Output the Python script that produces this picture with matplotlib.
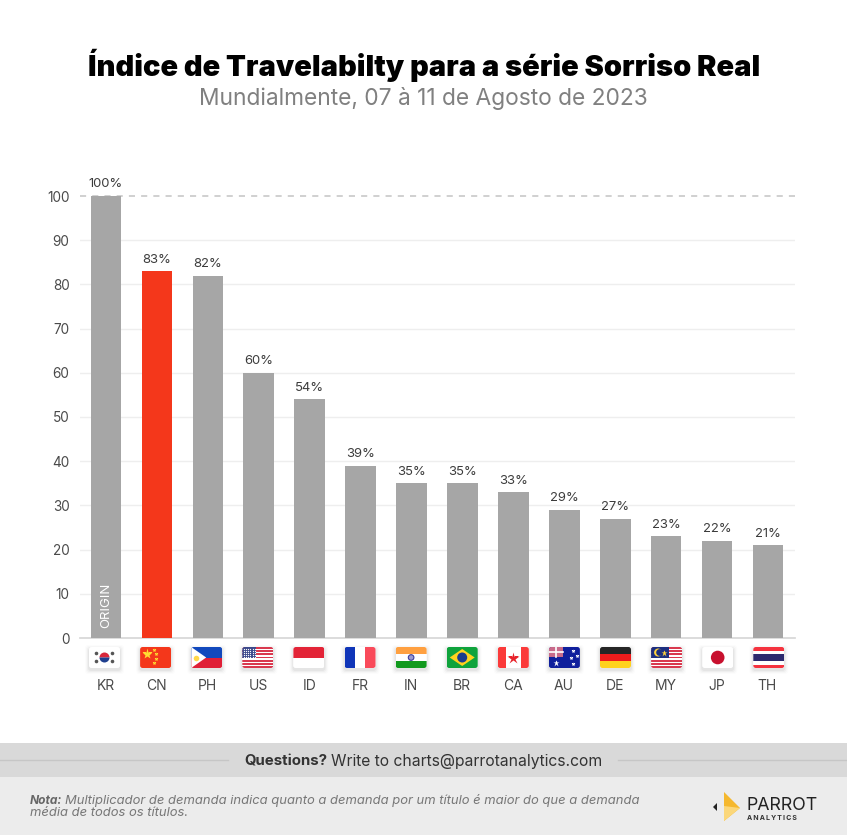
import numpy as np
import matplotlib.pyplot as plt
from matplotlib.patches import Rectangle, Polygon, Circle, FancyBboxPatch, Wedge

W, H = 847, 835

countries = ["KR", "CN", "PH", "US", "ID", "FR", "IN", "BR", "CA", "AU", "DE", "MY", "JP", "TH"]
values = [100, 83, 82, 60, 54, 39, 35, 35, 33, 29, 27, 23, 22, 21]
y_ticks = [0, 10, 20, 30, 40, 50, 60, 70, 80, 90, 100]
highlight = "CN"

TITLE = "Índice de Travelabilty para a série Sorriso Real"
SUBTITLE = "Mundialmente, 07 à 11 de Agosto de 2023"
NOTE_1 = "Multiplicador de demanda indica quanto a demanda por um título é maior do que a demanda"
NOTE_2 = "média de todos os títulos."

plt.rcParams["font.family"] = ["Inter", "DejaVu Sans"]

fig = plt.figure(figsize=(W / 100, H / 100), dpi=100)

# overlay in pixels, y going down
bg = fig.add_axes([0, 0, 1, 1])
bg.set_xlim(0, W)
bg.set_ylim(H, 0)
bg.axis("off")

# ========= chart =========
ax_left, ax_right, ax_top, ax_bottom = 80, 795, 196, 638
ax = fig.add_axes([ax_left / W, 1 - ax_bottom / H, (ax_right - ax_left) / W, (ax_bottom - ax_top) / H])
ax.patch.set_alpha(0)
x = np.arange(len(countries))
colors = ["#f4371b" if c == highlight else "#a6a6a6" for c in countries]
ax.bar(x, values, width=0.6, color=colors, zorder=3)
ax.set_xlim(-0.51, 13.53)
ax.set_ylim(0, 100)
ax.set_yticks(y_ticks)
ax.set_xticks([])
ax.tick_params(axis="y", length=0, labelsize=9.8, labelcolor="#4a4a4a", pad=7.5)
for s in ["top", "right", "left"]:
    ax.spines[s].set_visible(False)
ax.spines["bottom"].set_color("#d5d5d5")
ax.spines["bottom"].set_linewidth(1.2)
for t in y_ticks[1:-1]:
    ax.axhline(t, color="#eeeeee", lw=1, zorder=1)
ax.axhline(100, color="#c4c4c4", lw=1.1, ls=(0, (4, 4)), zorder=2, clip_on=False)

for i, v in enumerate(values):
    ax.annotate(f"{v}%", (i, v), xytext=(0, 4), textcoords="offset points", ha="center", va="bottom",
                fontsize=9.4, color="#3c3c3c", zorder=5, annotation_clip=False)
ax.text(0, 2.2, "ORIGIN", rotation=90, ha="center", va="bottom", color="white", fontsize=9.5, zorder=5)


# ========= flags =========
def stripes(x0, y0, w, h, cols):
    n = len(cols)
    for k, c in enumerate(cols):
        bg.add_patch(Rectangle((x0, y0 + k * h / n), w, h / n, color=c, lw=0, zorder=3))


def vstripes(x0, y0, w, h, cols):
    n = len(cols)
    for k, c in enumerate(cols):
        bg.add_patch(Rectangle((x0 + k * w / n, y0), w / n, h, color=c, lw=0, zorder=3))


def flag(code, cx):
    w, h = 31, 21
    x0, y0 = cx - w / 2, 647
    # soft shadow
    for g, a in [(4, 0.012), (3, 0.02), (2, 0.03), (1, 0.04)]:
        bg.add_patch(FancyBboxPatch((x0 - g, y0 - g + 2), w + 2 * g, h + 2 * g,
                                    boxstyle="round,pad=0,rounding_size=3", fc="black", ec="none", alpha=a, zorder=2))
    n_patches, n_lines = len(bg.patches), len(bg.lines)
    bg.add_patch(Rectangle((x0, y0), w, h, color="white", lw=0, zorder=3))
    mx, my = cx, y0 + h / 2
    if code == "KR":
        bg.add_patch(Wedge((mx, my), 5, 180, 360, color="#d8283c", lw=0, zorder=4))
        bg.add_patch(Wedge((mx, my), 5, 0, 180, color="#1f3f8f", lw=0, zorder=4))
        for dx, dy in [(-8, -4), (8, -4), (-8, 4), (8, 4)]:
            bg.add_patch(Circle((mx + dx, my + dy), 1.8, color="#555555", lw=0, zorder=4))
    elif code == "CN":
        stripes(x0, y0, w, h, ["#f4371b"])
        bg.plot(x0 + 7, y0 + 7, marker="*", ms=8, color="#ffdc32", mec="none", zorder=4)
        for dx, dy in [(14, 3), (16, 7), (16, 12), (14, 16)]:
            bg.plot(x0 + dx, y0 + dy, marker="*", ms=3, color="#ffdc32", mec="none", zorder=4)
    elif code == "PH":
        stripes(x0, y0, w, h, ["#1249bd", "#e01f37"])
        bg.add_patch(Polygon([(x0, y0), (x0 + 15, my), (x0, y0 + h)], color="white", lw=0, zorder=4))
        bg.plot(x0 + 5, my, marker="o", ms=4, color="#ffd84a", mec="none", zorder=5)
    elif code in ("US", "MY"):
        stripes(x0, y0, w, h, ["#d9394f", "white"] * 6 + ["#d9394f"])
        if code == "US":
            bg.add_patch(Rectangle((x0, y0), 14, 11, color="#3c4a8c", lw=0, zorder=4))
            for px in np.arange(x0 + 1.5, x0 + 14, 2.2):
                for py in np.arange(y0 + 1.5, y0 + 11, 2):
                    bg.plot(px, py, marker="o", ms=0.9, color="white", mec="none", zorder=5)
        else:
            bg.add_patch(Rectangle((x0, y0), 18, 11, color="#1c2f80", lw=0, zorder=4))
            bg.add_patch(Circle((x0 + 7, y0 + 5.5), 4, color="#ffd23c", lw=0, zorder=5))
            bg.add_patch(Circle((x0 + 8.5, y0 + 5.5), 3.4, color="#1c2f80", lw=0, zorder=5))
            bg.plot(x0 + 13, y0 + 5.5, marker="*", ms=5, color="#ffd23c", mec="none", zorder=5)
    elif code == "ID":
        stripes(x0, y0, w, h, ["#e32437", "white"])
    elif code == "FR":
        vstripes(x0, y0, w, h, ["#0f35b8", "white", "#f94a5a"])
    elif code == "IN":
        stripes(x0, y0, w, h, ["#ffa040", "white", "#129a1e"])
        bg.add_patch(Circle((mx, my), 2.8, fc="#9a9ad0", ec="#3c3c9c", lw=0.8, zorder=4))
    elif code == "BR":
        stripes(x0, y0, w, h, ["#0fa33c"])
        bg.add_patch(Polygon([(x0 + 3, my), (mx, y0 + 2), (x0 + w - 3, my), (mx, y0 + h - 2)],
                             color="#ffd21e", lw=0, zorder=4))
        bg.add_patch(Circle((mx, my), 5, color="#1b3c8c", lw=0, zorder=5))
    elif code == "CA":
        vstripes(x0, y0, w, h, ["#fb3a3a", "white", "white", "#fb3a3a"])
        bg.plot(mx, my, marker="*", ms=9, color="#e8242c", mec="none", zorder=4)
    elif code == "AU":
        stripes(x0, y0, w, h, ["#0f1f9c"])
        bg.add_patch(Rectangle((x0, y0), 14, 10, color="#c96a8a", lw=0, zorder=4))
        bg.plot([x0, x0 + 14], [y0 + 5, y0 + 5], color="white", lw=1.2, zorder=5)
        bg.plot([x0 + 7, x0 + 7], [y0, y0 + 10], color="white", lw=1.2, zorder=5)
        for dx, dy, s in [(7, 16, 5), (24, 4, 3), (28, 9, 3), (22, 11, 3), (24, 17, 3)]:
            bg.plot(x0 + dx, y0 + dy, marker="*", ms=s, color="white", mec="none", zorder=5)
    elif code == "DE":
        stripes(x0, y0, w, h, ["#262626", "#ee1c1c", "#ffd21e"])
    elif code == "JP":
        bg.add_patch(Circle((mx, my), 6.8, color="#c8102e", lw=0, zorder=4))
    elif code == "TH":
        stripes(x0, y0, w, h, ["#f5333f", "white", "#2d2a6e", "#2d2a6e", "white", "#f5333f"])
    # rounded corners
    clip = FancyBboxPatch((x0, y0), w, h, boxstyle="round,pad=0,rounding_size=2.5",
                          transform=bg.transData, fc="none", ec="none")
    for art in bg.patches[n_patches:] + bg.lines[n_lines:]:
        art.set_clip_path(clip)


for i, c in enumerate(countries):
    flag(c, 104.5 + i * 51.1)
    bg.text(106 + i * 50.88, 685.5, c, ha="center", va="center", fontsize=10, color="#4a4a4a")

# ========= titles =========
bg.text(W / 2 + 1, 65, TITLE, ha="center", va="center", fontsize=20.9, fontweight="black", color="black")
bg.text(W / 2 - 0.5, 99, SUBTITLE, ha="center", va="center", fontsize=16.4, color="#808080")

# ========= footer =========
bg.add_patch(Rectangle((0, 743), W, 34, color="#d9d9d9", lw=0, zorder=1))
bg.add_patch(Rectangle((0, 777), W, 58, color="#ececec", lw=0, zorder=1))
bg.plot([0, 228], [760, 760], color="#c6c6c6", lw=1, zorder=2)
bg.plot([618, W], [760, 760], color="#c6c6c6", lw=1, zorder=2)
bg.text(244, 761, "Questions?", ha="left", va="center", fontsize=10.8, fontweight="bold", color="#333333")
bg.text(331, 761, "Write to charts@parrotanalytics.com", ha="left", va="center", fontsize=11.3, color="#333333")
bg.text(30, 800.5, "Nota:", ha="left", va="center", fontsize=8.6, style="italic", fontweight="bold", color="#666666")
bg.text(65, 800.5, NOTE_1, ha="left", va="center", fontsize=9.36, style="italic", color="#777777")
bg.text(30, 813, NOTE_2, ha="left", va="center", fontsize=9.36, style="italic", color="#777777")

# logo
bg.add_patch(Polygon([(724, 792), (740, 808), (724, 821)], color="#f5b82e", lw=0, zorder=3))
bg.add_patch(Polygon([(724, 806), (740, 808), (724, 821)], color="#fbd77a", lw=0, zorder=4))
bg.add_patch(Polygon([(717, 803), (713, 807), (717, 811)], color="#222222", lw=0, zorder=3))
bg.text(747, 806, "PARROT", ha="left", va="center", fontsize=12.8, color="#222222")
bg.text(747, 818, "\u2009".join("ANALYTICS"), ha="left", va="center", fontsize=5, fontweight="bold", color="#333333")

fig.savefig("out.png", dpi=100)
